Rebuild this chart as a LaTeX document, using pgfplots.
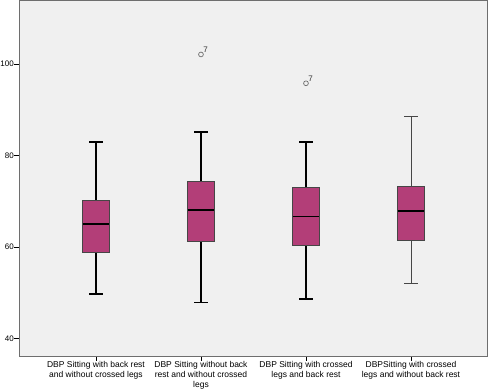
\documentclass[border=0pt]{standalone}
\usepackage{pgfplots}
\pgfplotsset{compat=1.18}
\usepackage{fontspec}
\setmainfont{Liberation Sans}
\definecolor{boxfill}{RGB}{179,62,120}
\definecolor{bg}{RGB}{240,240,240}
\definecolor{framec}{RGB}{110,110,110}
\definecolor{boxedge}{RGB}{70,70,70}
\pgfplotsset{
  whisk/.style={black, line width=1.6pt, line cap=butt},
  thinwhisk/.style={boxedge, line width=0.8pt, line cap=butt},
  boxst/.style={fill=boxfill, draw=boxedge, line width=0.8pt},
  med/.style={black, line width=1.6pt, line cap=butt},
}
\begin{document}
\begin{tikzpicture}
\path[use as bounding box] (0pt,0pt) rectangle (489pt,389pt);
\begin{axis}[
  at={(19pt,33pt)}, anchor=south west,
  scale only axis, width=468pt, height=356pt,
  xmin=0.267, xmax=4.724, ymin=36.2, ymax=114,
  unbounded coords=jump,
  axis background/.style={fill=bg},
  axis line style={framec, line width=0.8pt},
  ytick={40,60,80,100}, xtick={1,2,3,4},
  xticklabels={{DBP Sitting with back rest\\and without crossed legs},
               {DBP Sitting without back\\rest and without crossed\\legs},
               {DBP Sitting with crossed\\legs and back rest},
               {DBPSitting with crossed\\legs and without back rest}},
  tick align=outside, major tick length=4.5pt,
  tick style={black, line width=0.8pt},
  xtick pos=lower, ytick pos=left,
  ticklabel style={font=\fontsize{8.5}{9.7}\selectfont},
  xticklabel style={align=center, inner sep=1pt},
  yticklabel style={inner sep=0.5pt, font=\fontsize{8}{9}\selectfont},
  /pgf/number format/assume math mode=true,
  clip=false,
]
% Box 1: lw 49.7, q1 58.75, med 65.0, q3 70.3, uw 83.0
\addplot[whisk] coordinates {(1,49.7) (1,58.75) (nan,nan) (1,70.3) (1,83.0) (nan,nan)
  (0.9375,49.7) (1.0625,49.7) (nan,nan) (0.9375,83.0) (1.0625,83.0)};
\addplot[boxst] coordinates {(0.875,58.75) (1.125,58.75) (1.125,70.3) (0.875,70.3)} --cycle;
\addplot[med] coordinates {(0.875,65.0) (1.125,65.0)};
% Box 2: lw 47.9, q1 61.3, med 68.1, q3 74.3, uw 85.1
\addplot[whisk] coordinates {(2,47.9) (2,61.3) (nan,nan) (2,74.3) (2,85.1) (nan,nan)
  (1.9375,47.9) (2.0625,47.9) (nan,nan) (1.9375,85.1) (2.0625,85.1)};
\addplot[boxst] coordinates {(1.875,61.3) (2.125,61.3) (2.125,74.3) (1.875,74.3)} --cycle;
\addplot[med] coordinates {(1.875,68.1) (2.125,68.1)};
% Box 3: lw 48.7, q1 60.4, med 66.7, q3 73.0, uw 83.0
\addplot[whisk] coordinates {(3,48.7) (3,60.4) (nan,nan) (3,73.0) (3,83.0) (nan,nan)
  (2.9375,48.7) (3.0625,48.7) (nan,nan) (2.9375,83.0) (3.0625,83.0)};
\addplot[boxst] coordinates {(2.875,60.4) (3.125,60.4) (3.125,73.0) (2.875,73.0)} --cycle;
\addplot[med, line width=1.2pt] coordinates {(2.875,66.7) (3.125,66.7)};
% Box 4: lw 52.1, q1 61.4, med 67.9, q3 73.3, uw 88.6
\addplot[thinwhisk] coordinates {(4,52.1) (4,61.4) (nan,nan) (4,73.3) (4,88.6) (nan,nan)
  (3.9375,52.1) (4.0625,52.1) (nan,nan) (3.9375,88.6) (4.0625,88.6)};
\addplot[boxst] coordinates {(3.875,61.4) (4.125,61.4) (4.125,73.3) (3.875,73.3)} --cycle;
\addplot[med] coordinates {(3.875,67.9) (4.125,67.9)};
% Outliers (case 7)
\addplot[only marks, mark=o, mark size=2.4pt, mark options={draw=framec, line width=0.7pt},
  nodes near coords={7},
  every node near coord/.style={anchor=south west, font=\fontsize{8}{8}\selectfont,
    inner sep=0pt, xshift=2pt, yshift=1.5pt, text=black!80}]
  coordinates {(2,102.1) (3,95.8)};
\end{axis}
\end{tikzpicture}
\end{document}
